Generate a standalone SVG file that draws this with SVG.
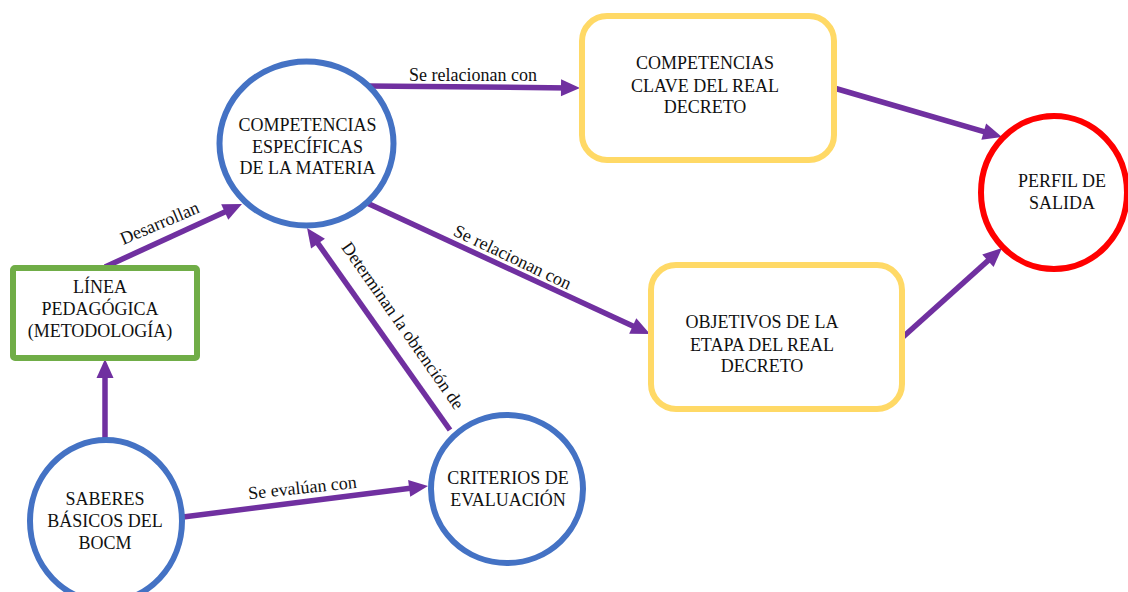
<svg xmlns="http://www.w3.org/2000/svg" width="1128" height="592" viewBox="0 0 1128 592">
  <style>
    text { font-family: "Liberation Serif", "Times New Roman", Times, Tinos, "Nimbus Roman", "Noto Serif", "DejaVu Serif", serif; font-size: 18px; fill: #111; }
    .node text { text-anchor: middle; }
    .lbl { text-anchor: middle; }
    .blue { fill: #fff; stroke: #4472C4; stroke-width: 6; }
    .yellow { fill: #fff; stroke: #FFD966; stroke-width: 6; }
    .green { fill: #fff; stroke: #70AD47; stroke-width: 6; }
    .red { fill: #fff; stroke: #FF0000; stroke-width: 6; }
    .conn { fill: none; stroke: #7030A0; stroke-width: 5.5; marker-end: url(#arrow); }
  </style>
  <defs>
    <marker id="arrow" markerUnits="userSpaceOnUse" markerWidth="19" markerHeight="17" refX="9" refY="8.5" orient="auto" overflow="visible">
      <path d="M0,0 L19,8.5 L0,17 z" fill="#7030A0"/>
    </marker>
  </defs>
  <rect width="1128" height="592" fill="#fff"/>

  <g id="connectors">
    <path class="conn" d="M367,86 L570,87.9"/>
    <path class="conn" d="M367,203 L640.9,329.8"/>
    <path class="conn" d="M834,88 L992.4,134.2"/>
    <path class="conn" d="M903,337 L994.6,254.7"/>
    <path class="conn" d="M105,267 L232.9,208.2"/>
    <path class="conn" d="M105,440 L105,369"/>
    <path class="conn" d="M183,517 L418.1,487.3"/>
    <path class="conn" d="M450,430 L312.8,236.2"/>
    <text class="lbl" x="473" y="81">Se relacionan con</text>
    <text class="lbl" transform="translate(510,262.5) rotate(25.4)">Se relacionan con</text>
    <text class="lbl" transform="translate(162,228.5) rotate(-23)">Desarrollan</text>
    <text class="lbl" transform="translate(303,493.5) rotate(-6)">Se evalúan con</text>
    <text class="lbl" transform="translate(398,329) rotate(55)">Determinan la obtención de</text>
  </g>

  <g id="competencias-especificas" class="node">
    <ellipse class="blue" cx="306.5" cy="143.5" rx="87" ry="82"/>
    <text x="307.5" y="131">COMPETENCIAS</text>
    <text x="307.5" y="152.7">ESPECÍFICAS</text>
    <text x="307.5" y="174">DE LA MATERIA</text>
  </g>

  <g id="competencias-clave" class="node">
    <rect class="yellow" x="582" y="16" width="252" height="144" rx="25" ry="25"/>
    <text x="705" y="69">COMPETENCIAS</text>
    <text x="705" y="91.5">CLAVE DEL REAL</text>
    <text x="705" y="113">DECRETO</text>
  </g>

  <g id="objetivos-etapa" class="node">
    <rect class="yellow" x="651" y="265" width="251" height="144" rx="25" ry="25"/>
    <text x="762" y="328">OBJETIVOS DE LA</text>
    <text x="762" y="350.5">ETAPA DEL REAL</text>
    <text x="762" y="372">DECRETO</text>
  </g>

  <g id="perfil-salida" class="node">
    <ellipse class="red" cx="1054" cy="192.5" rx="73" ry="76.5"/>
    <text x="1062" y="187">PERFIL DE</text>
    <text x="1062" y="209">SALIDA</text>
  </g>

  <g id="linea-pedagogica" class="node">
    <rect class="green" x="13" y="268" width="184" height="90" rx="2" ry="2"/>
    <text x="100" y="292.7">LÍNEA</text>
    <text x="100" y="315">PEDAGÓGICA</text>
    <text x="100" y="337">(METODOLOGÍA)</text>
  </g>

  <g id="saberes-basicos" class="node">
    <ellipse class="blue" cx="106" cy="521" rx="76" ry="81"/>
    <text x="105" y="505">SABERES</text>
    <text x="105" y="527">BÁSICOS DEL</text>
    <text x="105" y="549">BOCM</text>
  </g>

  <g id="criterios-evaluacion" class="node">
    <ellipse class="blue" cx="507" cy="489" rx="76" ry="74"/>
    <text x="508" y="484">CRITERIOS DE</text>
    <text x="508" y="506">EVALUACIÓN</text>
  </g>
</svg>
